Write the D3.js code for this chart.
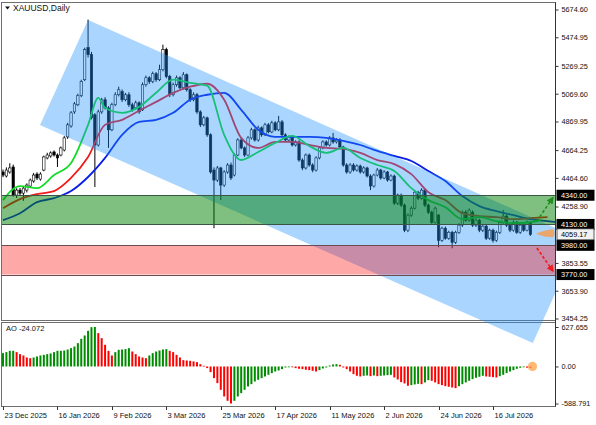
<!DOCTYPE html>
<html><head><meta charset="utf-8">
<script src="https://cdn.jsdelivr.net/npm/d3@7/dist/d3.min.js"></script>
<style>html,body{margin:0;padding:0;background:#fff;}svg{display:block;}text{font-family:"Liberation Sans",Arial,sans-serif;}</style>
</head><body>
<svg id="c" width="596" height="425"></svg>
<script>
// ---------- data ----------
const symbolTitle = "XAUUSD,Daily";
const dateLabels = ["23 Dec 2025","16 Jan 2026","9 Feb 2026","3 Mar 2026","25 Mar 2026","17 Apr 2026","11 May 2026","2 Jun 2026","24 Jun 2026","16 Jul 2026"];
const dateIdx = [0,16,32,48,64,80,96,112,128,144];
const priceTicks = [5674.60,5474.95,5269.25,5069.60,4869.95,4664.25,4464.60,4258.90,3853.55,3653.90,3454.25];
const levelPrices = [4340.00,4130.00,3980.00,3770.00];
const lastPrice = 4059.17;

const opens = [4507,4478,4507,4543,4341,4377,4355,4377,4406,4442,
4492,4456,4521,4608,4622,4651,4629,4629,4665,4759,
4838,4939,4990,5055,5170,5401,5350,4918,4701,4939,
5026,4968,4810,4990,5062,5084,5026,5062,4990,4968,
5004,4954,5134,5184,5156,5213,5170,5242,5386,5192,
5062,5134,5184,5112,5206,5098,5026,5062,4939,4846,
4896,4774,4521,4449,4536,4413,4507,4557,4485,4629,
4737,4680,4629,4752,4810,4737,4824,4774,4846,4795,
4860,4810,4867,4774,4737,4759,4701,4723,4593,4536,
4629,4557,4521,4608,4680,4723,4701,4752,4723,4737,
4687,4557,4507,4557,4521,4550,4507,4536,4478,4406,
4485,4521,4464,4507,4449,4478,4283,4341,4269,4089,
4197,4247,4362,4319,4377,4269,4218,4146,4197,4016,
4103,4031,4074,4002,4074,4125,4218,4161,4218,4125,
4161,4089,4118,4031,4089,4016,4074,4146,4190,4125,
4089,4146,4074,4125,4089,4146];
const closes = [4485,4521,4536,4341,4377,4355,4391,4413,4449,4485,
4464,4492,4615,4629,4644,4629,4608,4680,4752,4846,
4932,4997,5055,5156,5386,5350,4896,4701,4939,5026,
4968,4810,4990,5062,5098,5026,5062,4990,4954,5004,
4939,5134,5184,5156,5213,5170,5242,5386,5192,5062,
5134,5184,5112,5206,5098,5026,5062,4939,4846,4896,
4774,4507,4449,4536,4413,4507,4557,4464,4629,4737,
4680,4629,4752,4810,4737,4824,4774,4846,4795,4860,
4810,4867,4774,4737,4759,4701,4723,4593,4536,4629,
4557,4521,4608,4680,4723,4701,4752,4723,4737,4687,
4557,4507,4557,4521,4550,4507,4536,4478,4406,4485,
4521,4464,4507,4449,4478,4283,4341,4269,4089,4197,
4247,4362,4319,4377,4269,4218,4146,4247,4016,4103,
4031,4074,4002,4074,4125,4218,4161,4233,4125,4161,
4089,4118,4031,4089,4016,4074,4146,4190,4125,4089,
4146,4074,4125,4089,4146,4059.17];
const highs = [4525,4540,4570,4560,4390,4392,4400,4425,4460,4500,
4505,4505,4625,4645,4655,4662,4640,4690,4765,4860,
4945,5010,5070,5170,5400,5602,5370,4930,4955,5040,
5045,4980,5005,5080,5120,5100,5075,5080,5005,5020,
5015,5150,5200,5195,5228,5225,5278,5422,5400,5205,
5150,5200,5195,5225,5215,5110,5080,5075,4950,4910,
4905,4785,4540,4550,4545,4520,4570,4575,4640,4750,
4755,4690,4765,4825,4820,4840,4835,4860,4858,4875,
4872,4910,4880,4785,4770,4770,4735,4735,4605,4640,
4640,4570,4620,4692,4735,4735,4765,4788,4750,4750,
4695,4570,4570,4570,4562,4560,4548,4545,4490,4495,
4535,4530,4520,4515,4490,4488,4352,4352,4280,4210,
4260,4375,4372,4390,4385,4280,4230,4258,4205,4115,
4115,4085,4085,4085,4138,4230,4232,4245,4230,4175,
4172,4130,4128,4100,4100,4085,4158,4233,4200,4135,
4158,4155,4138,4135,4158,4155];
const lows = [4470,4468,4495,4330,4320,4335,4300,4360,4395,4430,
4450,4445,4512,4598,4610,4618,4543,4620,4655,4745,
4825,4925,4980,5045,5160,5330,4885,4399,4690,4925,
4955,4680,4800,4980,5050,5010,5015,4975,4940,4955,
4925,4945,5120,5140,5145,5155,5160,5230,5180,5045,
5050,5120,5100,5100,5085,5010,5015,4925,4830,4835,
4760,4495,4103,4435,4305,4400,4495,4450,4475,4620,
4670,4615,4620,4740,4725,4725,4760,4765,4785,4785,
4800,4800,4765,4725,4725,4690,4690,4580,4520,4525,
4545,4505,4510,4598,4670,4690,4690,4710,4712,4675,
4545,4495,4495,4510,4510,4495,4495,4468,4377,4395,
4475,4452,4455,4438,4440,4270,4270,4255,4075,4075,
4185,4238,4305,4308,4255,4205,4135,4135,3966,4005,
4020,4020,3959,3990,4062,4112,4150,4150,4112,4112,
4075,4075,4018,4020,4000,4005,4062,4135,4112,4075,
4078,4062,4062,4078,4080,4048];

const lipsIdx = [0,5,10,15,20,25,28,30,35,40,45,50,55,60,65,70,75,80,85,90,95,100,105,110,115,120,125,130,135,140,145,150,155,158];
const lipsVal = [4305,4406,4391,4485,4572,4846,5039,4968,4932,4975,5076,5170,5148,5127,4774,4593,4651,4716,4766,4694,4644,4680,4608,4557,4514,4391,4305,4254,4168,4182,4154,4139,4146,4161];
const teethIdx = [0,5,10,15,20,25,30,35,40,45,50,55,60,65,70,75,80,85,90,95,100,105,110,115,120,125,130,135,140,145,150,155,160];
const teethVal = [4247,4312,4348,4370,4464,4615,4846,4882,4947,5011,5076,5120,5141,5026,4752,4680,4723,4723,4701,4680,4673,4644,4593,4564,4492,4362,4305,4211,4190,4182,4168,4175,4182];
const jawIdx = [0,5,10,15,20,25,30,35,40,45,50,55,60,65,70,75,80,85,90,95,100,105,110,115,120,125,130,135,140,145,150,155,160,163];
const jawVal = [4161,4211,4290,4319,4370,4471,4608,4774,4867,4882,4932,5026,5062,5076,4954,4810,4759,4759,4759,4752,4730,4701,4658,4622,4586,4514,4442,4334,4262,4226,4197,4168,4154,4146];

// Awesome Oscillator
const aoValues = [212,228,249,249,228,196,175,143,132,143,
159,175,185,196,207,228,249,249,254,270,
291,318,371,440,493,567,625,627.655,530,450,
345,249,175,228,265,270,276,291,238,196,
159,143,132,175,212,238,254,270,276,249,
228,185,143,101,95,90,80,69,37,11,
-26,-90,-186,-265,-371,-477,-546,-588.791,-546,-477,
-424,-371,-318,-281,-239,-212,-186,-159,-133,-106,
-80,-64,-42,-16,-3,-11,-26,-37,-42,-53,
-58,-69,-80,-58,-32,-16,16,32,37,27,
-16,-42,-80,-122,-148,-159,-148,-143,-154,-143,
-154,-148,-143,-138,-133,-175,-207,-249,-270,-307,
-297,-286,-276,-281,-254,-217,-228,-254,-281,-297,
-313,-323,-334,-345,-313,-281,-254,-228,-201,-180,
-164,-148,-159,-164,-170,-175,-154,-133,-106,-80,
-58,-37,-21,-13,-19,-24.072];
const aoLabel = "AO -24.072";
const aoTicks = [627.655, 0, -588.791];

// drawing objects (bar index, price)
const channelPts = [[10.87,4844.7],[25,5599.2],[169.5,4027.6],[155.7,3278]];
const greenZone = [4130,4340];
const redZone = [3770,3980];
const upArrow = [[156.9,4155],[161.6,4322]];
const downArrow = [[156.9,3961],[161.6,3796]];
const blobPos = [159.6,4066];
const aoMarkPos = [155.6,0];

// ---------- layout ----------
const L = 2, R = 555.5, mainTop = 2.5, mainBot = 320.5, aoTop = 322.5, aoBot = 406.5;
const svg = d3.select("#c");
const x = d3.scaleLinear().domain([0,144]).range([3,493]);
const y = d3.scaleLinear().domain([3454.25,5674.6]).range([318.5,9.5]);
const yA = d3.scaleLinear().domain([-588.791,627.655]).range([403.5,327]);

const defs = svg.append("defs");
defs.append("clipPath").attr("id","mclip").append("rect")
  .attr("x",L).attr("y",mainTop).attr("width",R-L).attr("height",mainBot-mainTop);
defs.append("clipPath").attr("id","aclip").append("rect")
  .attr("x",L).attr("y",aoTop).attr("width",R-L).attr("height",aoBot-aoTop);
defs.append("clipPath").attr("id","chclip").append("rect")
  .attr("x",L).attr("y",mainTop).attr("width",R-L).attr("height",aoBot-mainTop);
function marker(id,color){
  defs.append("marker").attr("id",id).attr("viewBox","0 0 10 10").attr("refX",8).attr("refY",5)
    .attr("markerWidth",4.5).attr("markerHeight",4.5).attr("orient","auto")
    .append("path").attr("d","M0,0L10,5L0,10Z").attr("fill",color);
}
marker("mg","#1f8f1f"); marker("mr","#ee1c1c");

const main = svg.append("g").attr("clip-path","url(#mclip)");

// candles
const bars = d3.range(closes.length);
const cg = main.append("g");
cg.selectAll("line.w").data(bars).join("line")
  .attr("x1",i=>x(i)).attr("x2",i=>x(i)).attr("y1",i=>y(highs[i])).attr("y2",i=>y(lows[i]))
  .attr("stroke","#000").attr("stroke-width",1);
cg.selectAll("rect.b").data(bars).join("rect")
  .attr("x",i=>x(i)-1.2).attr("width",2.4)
  .attr("y",i=>y(Math.max(opens[i],closes[i])))
  .attr("height",i=>Math.max(1,Math.abs(y(opens[i])-y(closes[i]))))
  .attr("fill",i=>closes[i]>=opens[i]?"#fff":"#000")
  .attr("stroke","#000").attr("stroke-width",0.6);

// alligator
function drawLine(idx,vals,color){
  main.append("path").datum(idx.map((d,k)=>[d,vals[k]]))
    .attr("d",d3.line().x(d=>x(d[0])).y(d=>y(d[1])).curve(d3.curveMonotoneX))
    .attr("fill","none").attr("stroke",color).attr("stroke-width",1.8);
}
drawLine(jawIdx,jawVal,"#0a1ee6");
drawLine(teethIdx,teethVal,"#f01c1c");
drawLine(lipsIdx,lipsVal,"#14dc28");

// ---------- AO ----------
const ag = svg.append("g").attr("clip-path","url(#aclip)");
const aoColors = [];
aoValues.forEach((v,i)=>{
  if(i===0) aoColors.push("#008c00");
  else if(v>aoValues[i-1]) aoColors.push("#008c00");
  else if(v<aoValues[i-1]) aoColors.push("#ff0000");
  else aoColors.push(aoColors[i-1]);
});
ag.selectAll("rect").data(bars).join("rect")
  .attr("x",i=>x(i)-1).attr("width",2)
  .attr("y",i=>Math.min(yA(0),yA(aoValues[i])))
  .attr("height",i=>Math.max(0.8,Math.abs(yA(aoValues[i])-yA(0))))
  .attr("fill",i=>aoColors[i]);
ag.append("circle").attr("cx",x(aoMarkPos[0])).attr("cy",yA(aoMarkPos[1])).attr("r",4.6)
  .attr("fill","rgba(255,160,70,0.75)");

// ---------- frames ----------
svg.append("rect").attr("x",L-0.5).attr("y",mainTop).attr("width",R-L+0.5).attr("height",mainBot-mainTop)
  .attr("fill","none").attr("stroke","#6e6e6e");
svg.append("rect").attr("x",L-0.5).attr("y",aoTop).attr("width",R-L+0.5).attr("height",aoBot-aoTop)
  .attr("fill","none").attr("stroke","#6e6e6e");

// channel overlay (spills over into the oscillator window, as in the picture)
svg.append("path").attr("clip-path","url(#chclip)")
  .attr("d","M"+channelPts.map(p=>x(p[0])+","+y(p[1])).join("L")+"Z")
  .attr("fill","rgba(30,144,255,0.38)");

const over = svg.append("g").attr("clip-path","url(#mclip)");
// zones
function zone(z,fill,edge){
  over.append("rect").attr("x",L).attr("width",R-L)
    .attr("y",y(z[1])).attr("height",y(z[0])-y(z[1])).attr("fill",fill);
  z.forEach(v=>over.append("line").attr("x1",L).attr("x2",R)
    .attr("y1",Math.round(y(v))+0.5).attr("y2",Math.round(y(v))+0.5)
    .attr("stroke",edge).attr("stroke-width",1));
}
zone(greenZone,"rgba(0,128,0,0.5)","#3b5544");
zone(redZone,"rgba(255,0,0,0.34)","#6e4b50");

// arrows
function arrow(a,color,m){
  over.append("line").attr("x1",x(a[0][0])).attr("y1",y(a[0][1]))
    .attr("x2",x(a[1][0])).attr("y2",y(a[1][1]))
    .attr("stroke",color).attr("stroke-width",1.6).attr("stroke-dasharray","3,2")
    .attr("marker-end","url(#"+m+")");
}
arrow(upArrow,"#1f8f1f","mg");
arrow(downArrow,"#ee1c1c","mr");

// orange blob
{
  const cx = x(blobPos[0]), cy = y(blobPos[1]);
  over.append("path")
    .attr("d",`M${cx-10},${cy+0.5} Q${cx-2},${cy-3.5} ${cx+7},${cy-4} Q${cx+10},${cy} ${cx+7},${cy+4} Q${cx-2},${cy+4} ${cx-10},${cy+0.5}Z`)
    .attr("fill","rgba(255,150,60,0.75)");
}

// price axis
const pa = svg.append("g").attr("transform",`translate(${R},0)`)
  .call(d3.axisRight(y).tickValues(priceTicks).tickFormat(d3.format(".2f")).tickSize(3).tickPadding(3));
pa.select(".domain").remove();
pa.selectAll("text").attr("font-size","7.3px").attr("fill","#111").attr("font-family","Liberation Sans, Arial, sans-serif");
pa.selectAll("line").attr("stroke","#333");

// level labels
levelPrices.forEach(v=>{
  const g = svg.append("g").attr("transform",`translate(${R+1},${y(v)})`);
  g.append("rect").attr("x",0).attr("y",-5.5).attr("width",38).attr("height",11).attr("fill","#000");
  g.append("text").attr("x",4.5).attr("y",0).attr("dy","0.35em").attr("font-size","7.3px")
    .attr("fill","#fff").text(d3.format(".2f")(v));
});
{
  const g = svg.append("g").attr("transform",`translate(${R+1},${y(lastPrice)})`);
  g.append("rect").attr("x",0.5).attr("y",-5.5).attr("width",37).attr("height",11)
    .attr("fill","#f2f2f2").attr("stroke","#333").attr("stroke-width",0.8);
  g.append("text").attr("x",4.5).attr("y",0).attr("dy","0.35em").attr("font-size","7.3px")
    .attr("fill","#000").text(d3.format(".2f")(lastPrice));
}

// AO axis
const aa = svg.append("g").attr("transform",`translate(${R},0)`)
  .call(d3.axisRight(yA).tickValues(aoTicks).tickFormat(d=>d===0?"0.00":String(d)).tickSize(3).tickPadding(3));
aa.select(".domain").remove();
aa.selectAll("text").attr("font-size","7.3px").attr("fill","#111").attr("font-family","Liberation Sans, Arial, sans-serif");
aa.selectAll("line").attr("stroke","#333");
svg.append("line").attr("x1",R).attr("x2",R).attr("y1",mainTop).attr("y2",aoBot).attr("stroke","#333");

// date axis
const da = svg.append("g");
dateIdx.forEach((d,k)=>{
  const px = Math.round(x(d))+0.5;
  da.append("line").attr("x1",px).attr("x2",px).attr("y1",aoBot).attr("y2",aoBot+3.5).attr("stroke","#333");
  da.append("text").attr("x",px+1).attr("y",418).attr("font-size","7.5px").attr("fill","#111").text(dateLabels[k]);
});

// titles
svg.append("path").attr("d","M5,6.5L10,6.5L7.5,9.5Z").attr("fill","#111");
svg.append("text").attr("x",13).attr("y",11).attr("font-size","8.5px").attr("fill","#111").text(symbolTitle);
svg.append("text").attr("x",6).attr("y",331).attr("font-size","7.5px").attr("fill","#111").text(aoLabel);
</script>
</body></html>
